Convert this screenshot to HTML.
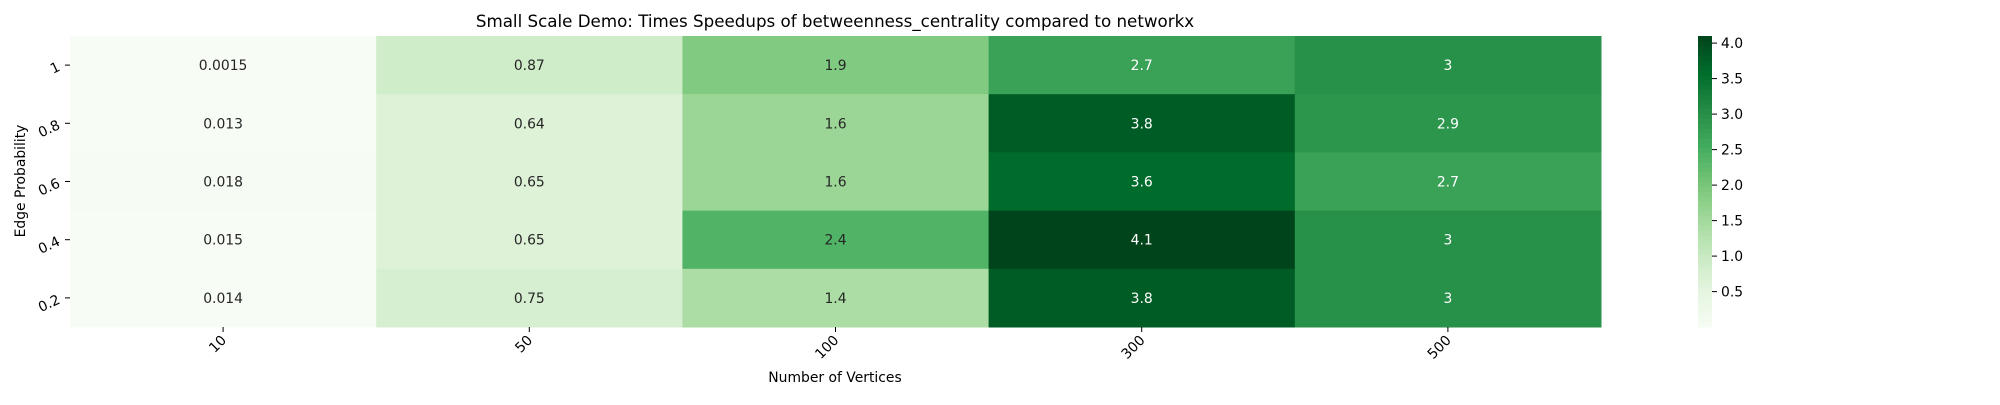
<!DOCTYPE html>
<html><head><meta charset="utf-8"><style>
body{margin:0;background:#fff;}
svg text{font-family:"DejaVu Sans","Liberation Sans",sans-serif;}
</style></head><body>
<svg id="chart" width="2000" height="400" xmlns="http://www.w3.org/2000/svg">
<text x="835" y="27" text-anchor="middle" font-size="16.7" fill="#000">Small Scale Demo: Times Speedups of betweenness_centrality compared to networkx</text>
<text x="835" y="382" text-anchor="middle" font-size="13.9" fill="#000">Number of Vertices</text>
<text transform="translate(25,181) rotate(-90)" text-anchor="middle" font-size="13.9" fill="#000">Edge Probability</text>
<g id="cells"></g><g id="xt"></g><g id="yt"></g><g id="cb"></g>
</svg>
<script>
const xCategories = ["10","50","100","300","500"];
const yCategories = ["1","0.8","0.6","0.4","0.2"];
const row1 = [0.0015,0.87,1.9,2.7,3];
const row08 = [0.013,0.64,1.6,3.8,2.9];
const row06 = [0.018,0.65,1.6,3.6,2.7];
const row04 = [0.015,0.65,2.4,4.1,3];
const row02 = [0.014,0.75,1.4,3.8,3];
const cbTicks = [0.5,1.0,1.5,2.0,2.5,3.0,3.5,4.0];
const rows=[row1,row08,row06,row04,row02];
const NS="http://www.w3.org/2000/svg";
const L=70,R=1601,T=36,B=327;
const cw=(R-L)/xCategories.length, ch=(B-T)/yCategories.length;
const all=rows.flat();
const vmin=Math.min(...all), vmax=Math.max(...all);
const stops=["#f7fcf5","#e5f5e0","#c7e9c0","#a1d99b","#74c476","#41ab5d","#238b45","#006d2c","#00441b"].map(h=>[1,3,5].map(i=>parseInt(h.substr(i,2),16)));
function cmap(v){let t=(v-vmin)/(vmax-vmin);t=Math.max(0,Math.min(1,t))*(stops.length-1);const i=Math.min(Math.floor(t),stops.length-2),f=t-i;const c=stops[i].map((a,k)=>a+(stops[i+1][k]-a)*f);return c;}
function hex(c){return "rgb("+c.map(Math.round).join(",")+")";}
function lum(c){const l=c.map(x=>{x/=255;return x<=0.03928?x/12.92:Math.pow((x+0.055)/1.055,2.4)});return 0.2126*l[0]+0.7152*l[1]+0.0722*l[2];}
function xs(i){return L+cw*i;} function ys(j){return T+ch*j;}
function mk(tag,at,p){const e=document.createElementNS(NS,tag);for(const k in at)e.setAttribute(k,at[k]);p.appendChild(e);return e;}
const cells=document.getElementById('cells');
rows.forEach((r,j)=>r.forEach((v,i)=>{
 const c=cmap(v);
 const rc=mk('rect',{x:xs(i),y:ys(j),width:cw+0.5,height:ch+0.5,fill:hex(c)},cells);
 
 
 const t=mk('text',{x:xs(i)+cw/2,y:ys(j)+ch/2+5,'text-anchor':'middle','font-size':'13.9',fill:lum(c)<0.3?'#fff':'#262626'},cells);
 
 
 t.textContent=String(v);
}));
const xt=document.getElementById('xt');
xCategories.forEach((c,i)=>{const x=xs(i)+cw/2;
 const l=mk('line',{x1:x,x2:x,y1:B,y2:B+5,stroke:'#000','stroke-width':1},xt);
 
 
 const t=mk('text',{transform:`translate(${x+4},${B+14}) rotate(-45)`,'text-anchor':'end','font-size':'13.9',fill:'#000'},xt);
 
 
 t.textContent=c;});
const yt=document.getElementById('yt');
yCategories.forEach((c,j)=>{const y=ys(j)+ch/2;
 const l=mk('line',{x1:L-5,x2:L,y1:y,y2:y,stroke:'#000','stroke-width':1},yt);
 
 
 const t=mk('text',{transform:`translate(${L-9},${y+5}) rotate(-25)`,'text-anchor':'end','font-size':'13.9',fill:'#000'},yt);
 
 
 t.textContent=c;});
const cb=document.getElementById('cb');
const CL=1698,CR=1712,N=60;
for(let k=0;k<N;k++){const v0=vmin+(vmax-vmin)*k/N;const y=B-(B-T)*(k+1)/N;
 const r=mk('rect',{x:CL,y:y,width:CR-CL,height:(B-T)/N+0.6,fill:hex(cmap(v0+(vmax-vmin)/(2*N)))},cb);
 
 }
cbTicks.forEach(v=>{const y=B-(B-T)*(v-vmin)/(vmax-vmin);
 const l=mk('line',{x1:CR,x2:CR+5,y1:y,y2:y,stroke:'#000','stroke-width':1},cb);
 
 
 const t=mk('text',{x:CR+9,y:y+5,'font-size':'13.9',fill:'#000'},cb);
 
 
 t.textContent=v.toFixed(1);});
</script>
</body></html>
